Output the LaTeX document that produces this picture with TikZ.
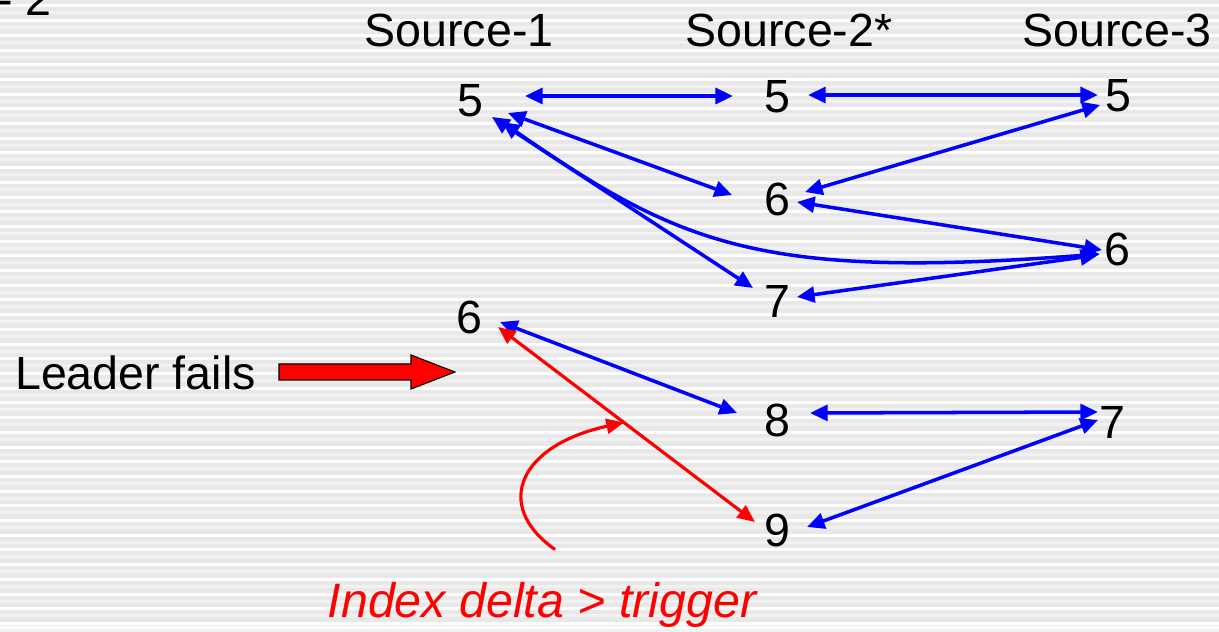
\documentclass[tikz,border=0pt]{standalone}
\usepackage{fontspec}
\setmainfont{Liberation Sans}
\usetikzlibrary{arrows.meta, calc}

\definecolor{stripegray}{HTML}{E8E8E8}
\definecolor{stripelight}{HTML}{F1F1F1}

\tikzset{
  txt/.style={font=\fontsize{26.5}{30}\selectfont, inner sep=0pt},
  idx/.style={txt},
  link/.style={blue, line width=2pt,
    {Triangle[length=10pt,width=9pt]}-{Triangle[length=10pt,width=9pt]}},
  badlink/.style={red, line width=1.8pt,
    {Triangle[length=10pt,width=8.5pt]}-{Triangle[length=10pt,width=8.5pt]}},
}

\begin{document}
\begin{tikzpicture}[x=0.02cm, y=-0.02cm]
    % Striped backdrop
    \fill[stripegray] (0,0) rectangle (1219,626);
    \foreach \k in {0,...,42} {
      \fill[white] (0,{4.5+14.7*\k}) rectangle (1219,{7.5+14.7*\k});
      \fill[stripelight] (0,{11.5+14.7*\k}) rectangle (1219,{14.5+14.7*\k});
    }
    \useasboundingbox (0,0) rectangle (1219,626);
    % Title remnant
    \node[txt, anchor=base west] (title) at (-3,16) {- 2};
    % Column heads
    \node[txt, anchor=base] (s1) at (459,47) {Source-1};
    \node[txt, anchor=base] (s2) at (789,47) {Source-2*};
    \node[txt, anchor=base] (s3) at (1117,47) {Source-3};
    % Log indices per source
    \node[idx] (a5) at (470,101) {5};
    \node[idx] (a6) at (469,317) {6};
    \node[idx] (b5) at (777,97) {5};
    \node[idx] (b6) at (777,199) {6};
    \node[idx] (b7) at (777,301) {7};
    \node[idx] (b8) at (777,420) {8};
    \node[idx] (b9) at (777,530) {9};
    \node[idx] (c5) at (1118,96) {5};
    \node[idx] (c6) at (1117,249) {6};
    \node[idx] (c7) at (1112,422) {7};
    % Replication links
    \draw[link] ($(a5)+(55,-5)$) -- ($(b5)+(-44,-1)$);
    \draw[link] ($(b5)+(31,-2)$) -- ($(c5)+(-20,-1)$);
    \draw[link] ($(a5)+(38,12)$) -- ($(b6)+(-45,-4)$);
    \draw[link] ($(c5)+(-18,9)$) -- ($(b6)+(28,-7)$);
    \draw[link] ($(a5)+(22,16)$) -- ($(b7)+(-24,-13)$);
    \draw[link] ($(a5)+(32,21)$) .. controls ($(a5)+(210,144)$) and ($(c6)+(-357,31)$) .. ($(c6)+(-17,5)$);
    \draw[link] ($(b6)+(20,3)$) -- ($(c6)+(-15,1)$);
    \draw[link] ($(c6)+(-19,6)$) -- ($(b7)+(20,-4)$);
    \draw[link] ($(a6)+(31,5)$) -- ($(b8)+(-40,-7)$);
    \draw[link] ($(b8)+(33,-7)$) -- ($(c7)+(-14,-10)$);
    \draw[link] ($(c7)+(-14,-2)$) -- ($(b9)+(30,-3)$);
    % New leader jumps ahead
    \coordinate (ra) at ($(a6)+(29,10)$);
    \coordinate (rb) at ($(b9)+(-22,-8)$);
    \draw[badlink] (ra) -- (rb);
    % Leader failure marker
    \node[txt, anchor=base] (fail) at (135.5,389) {Leader fails};
    \filldraw[red, draw=black, line width=0.6pt]
      (279,364) -- (411,364) -- (411,355) -- (455,372) -- (411,389) -- (411,380) -- (279,380) -- cycle;
    % Trigger note
    \node[txt, red, font=\fontsize{27.5}{30}\selectfont\itshape, anchor=base] (note) at (542,617) {Index delta > trigger};
    \coordinate (tail) at ($(note)+(13,-55)$);
    \draw[red, line width=1.8pt, -{Triangle[length=10pt,width=8.5pt]}]
      (tail) .. controls (492,505) and (520,445) .. ($(ra)!0.49!(rb)$);
\end{tikzpicture}
\end{document}
